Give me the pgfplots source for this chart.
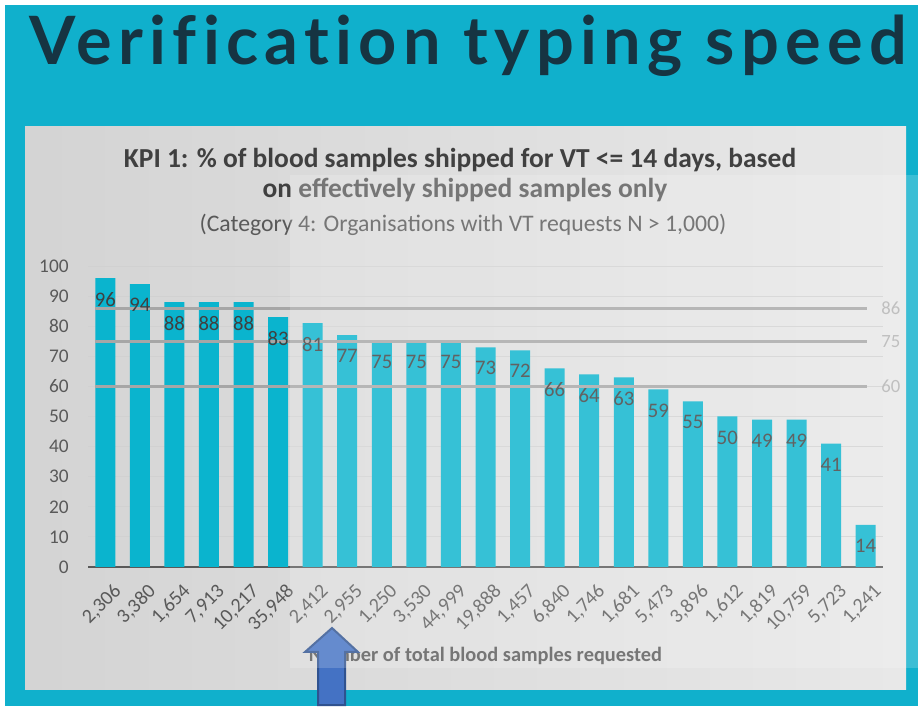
\documentclass[border=0pt]{standalone}
\usepackage{pgfplots}
\pgfplotsset{compat=1.18}
\usepackage{fontspec}
\setmainfont{Carlito}
\newfontfamily\titlefont[LetterSpace=9.5,Ligatures={NoCommon}]{Lato}
\definecolor{outer}{HTML}{10B0CC}
\definecolor{barc}{HTML}{0AB4CE}
\definecolor{titlec}{HTML}{163442}
\definecolor{darktxt}{HTML}{404040}
\definecolor{tickc}{HTML}{595959}
\definecolor{refc}{HTML}{A6A6A6}
\definecolor{arrowfill}{HTML}{4472C4}
\definecolor{arrowdraw}{HTML}{2F528F}
\newcommand\tl[1]{\textnormal{#1}}
\begin{document}
\begin{tikzpicture}
\begin{scope}[x=0.75pt,y=0.75pt]
\fill[white] (0,0) rectangle (918,706);
\fill[outer] (5,0) rectangle (918,701);
\shade[left color=black!17, middle color=white, right color=black!9] (25,16) rectangle (906,579);
\node[font=\titlefont\bfseries\fontsize{50}{56}\selectfont, text=titlec, anchor=base, inner sep=0pt] at (468,641) {Verification typing speed};
\node[font=\bfseries\fontsize{20.6}{24}\selectfont, text=darktxt, anchor=base] at (460,538) {KPI 1: \% of blood samples shipped for VT <= 14 days, based};
\node[font=\bfseries\fontsize{20.6}{24}\selectfont, text=darktxt, anchor=base] at (465,508) {on \textcolor{tickc}{effectively shipped samples only}};
\node[font=\fontsize{17.8}{20}\selectfont, text=tickc, anchor=base] at (463,474) {(Category 4: Organisations with VT requests N > 1,000)};
\end{scope}
\begin{axis}[
  at={(66pt,104.25pt)}, anchor=south west,
  scale only axis, width=596.25pt, height=225.75pt,
  xmin=-0.5, xmax=22.5, ymin=0, ymax=100,
  clip=false,
  /pgf/number format/assume math mode=true,
  axis x line=bottom, axis y line=left,
  x axis line style={-, draw=tickc, line width=1.5pt},
  y axis line style={draw=none},
  major tick length=0pt,
  ytick={0,10,...,100},
  ymajorgrids, grid style={black!18, line width=0.6pt},
  xtick={0,...,22},
  xticklabels={\tl{2,306},\tl{3,380},\tl{1,654},\tl{7,913},\tl{10,217},\tl{35,948},\tl{2,412},\tl{2,955},\tl{1,250},\tl{3,530},\tl{44,999},\tl{19,888},\tl{1,457},\tl{6,840},\tl{1,746},\tl{1,681},\tl{5,473},\tl{3,896},\tl{1,612},\tl{1,819},\tl{10,759},\tl{5,723},\tl{1,241}},
  xticklabel style={rotate=45, anchor=north east, font=\fontsize{15}{17}\selectfont, text=tickc, inner sep=1pt, xshift=-3.5pt, yshift=-11pt},
  yticklabel style={font=\fontsize{14.5}{16}\selectfont, text=tickc, xshift=-11pt},
  xlabel={Number of total blood samples requested},
  xlabel style={at={(axis description cs:0.5,0)}, anchor=center, yshift=-66.75pt, font=\bfseries\fontsize{15.3}{18}\selectfont, text=tickc},
]
\addplot[ybar, bar width=15pt, fill=barc, draw=none,
  nodes near coords,
  nodes near coords style={anchor=north, inner sep=0pt, yshift=-10.5pt, font=\fontsize{15.5}{17}\selectfont, text=darktxt}]
  coordinates {(0,96) (1,94) (2,88) (3,88) (4,88) (5,83) (6,81) (7,77) (8,75) (9,75) (10,75) (11,73) (12,72) (13,66) (14,64) (15,63) (16,59) (17,55) (18,50) (19,49) (20,49) (21,41) (22,14)};
\addplot[sharp plot, draw=refc, line width=2.25pt, no markers] coordinates {(-0.3,86) (22.05,86)}
  node[pos=1, anchor=west, xshift=6pt, font=\fontsize{14}{16}\selectfont, text=black!30] {86};
\addplot[sharp plot, draw=refc, line width=2.25pt, no markers] coordinates {(-0.3,75) (22.05,75)}
  node[pos=1, anchor=west, xshift=6pt, font=\fontsize{14}{16}\selectfont, text=black!30] {75};
\addplot[sharp plot, draw=refc, line width=2.25pt, no markers] coordinates {(-0.3,60) (22.05,60)}
  node[pos=1, anchor=west, xshift=6pt, font=\fontsize{14}{16}\selectfont, text=black!30] {60};
\end{axis}
\begin{scope}[x=0.75pt,y=0.75pt]
\filldraw[fill=arrowfill, draw=arrowdraw, line width=1.5pt] (332,78) -- (358,54) -- (345,54) -- (345,0.75) -- (318,0.75) -- (318,54) -- (305,54) -- cycle;
\fill[white, opacity=0.18] (290,38) rectangle (918,531);
\end{scope}
\end{tikzpicture}
\end{document}
